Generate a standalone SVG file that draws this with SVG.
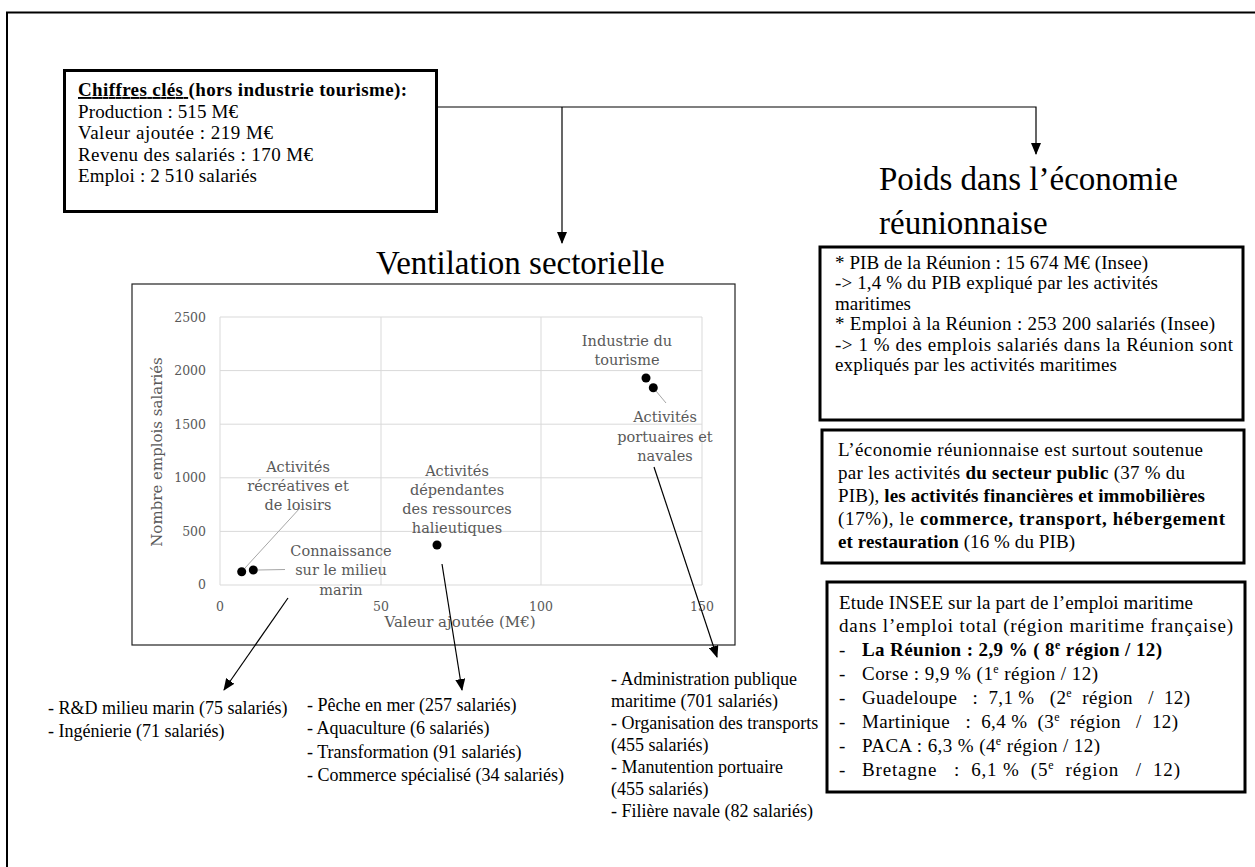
<svg xmlns="http://www.w3.org/2000/svg" width="1255" height="867" viewBox="0 0 1255 867">
<style>
.t{font-family:"Liberation Serif","Times New Roman",serif;fill:#000}
.b19{font-size:19px}
.l18{font-size:18px}
.title{font-size:33px}
.bold{font-weight:bold}
.box{fill:#fff;stroke:#000;stroke-width:3}
.c{font-family:"DejaVu Serif",serif;fill:#595959}
.tick{font-size:12.5px}
.lab{font-size:14.5px;text-anchor:middle}
.axt{font-size:15px;text-anchor:middle}
.grid{stroke:#d9d9d9;stroke-width:1;fill:none}
.lead{stroke:#a6a6a6;stroke-width:1;fill:none}
.con{stroke:#000;stroke-width:1.2;fill:none}
.dot{fill:#000}
</style>
<defs>
<marker id="ah" markerUnits="userSpaceOnUse" markerWidth="12" markerHeight="10" refX="11" refY="5" orient="auto">
<path d="M0,0 L12,5 L0,10 Z" fill="#000"/>
</marker>
</defs>
<rect x="0" y="0" width="1255" height="867" fill="#fff"/>
<rect id="outer" x="7" y="12.5" width="1260" height="880" fill="none" stroke="#000" stroke-width="2"/>

<g id="keyfigures">
<rect class="box" x="64.5" y="70.5" width="372" height="141"/>
<text class="t b19" x="78" y="96" textLength="329" lengthAdjust="spacing"><tspan class="bold" text-decoration="underline">Chiffres clés </tspan><tspan class="bold">(hors industrie tourisme):</tspan></text>
<text class="t b19" x="78" y="117.5" textLength="160" lengthAdjust="spacing">Production : 515 M€</text>
<text class="t b19" x="78" y="139" textLength="195" lengthAdjust="spacing">Valeur ajoutée : 219 M€</text>
<text class="t b19" x="78" y="160.5" textLength="235" lengthAdjust="spacing">Revenu des salariés : 170 M€</text>
<text class="t b19" x="78" y="182" textLength="179" lengthAdjust="spacing">Emploi : 2 510 salariés</text>
</g>

<g id="title-ventilation">
<text class="t title" x="376" y="274">Ventilation sectorielle</text>
</g>
<g id="title-poids">
<text class="t title" x="879" y="190">Poids dans l’économie</text>
<text class="t title" x="879" y="234">réunionnaise</text>
</g>

<g id="chart">
<rect x="132" y="284" width="603" height="361" fill="#fff" stroke="#222" stroke-width="1.2"/>
<g class="grid">
<line x1="220" y1="317" x2="702" y2="317"/>
<line x1="220" y1="370.6" x2="702" y2="370.6"/>
<line x1="220" y1="424.2" x2="702" y2="424.2"/>
<line x1="220" y1="477.8" x2="702" y2="477.8"/>
<line x1="220" y1="531.4" x2="702" y2="531.4"/>
<line x1="220" y1="585" x2="702" y2="585"/>
<line x1="220" y1="317" x2="220" y2="585"/>
<line x1="381" y1="317" x2="381" y2="585"/>
<line x1="541" y1="317" x2="541" y2="585"/>
<line x1="702" y1="317" x2="702" y2="585"/>
</g>
<g class="c tick" text-anchor="end">
<text x="206" y="322">2500</text>
<text x="206" y="375">2000</text>
<text x="206" y="429">1500</text>
<text x="206" y="482">1000</text>
<text x="206" y="536">500</text>
<text x="206" y="589">0</text>
</g>
<g class="c tick" text-anchor="middle">
<text x="220" y="611">0</text>
<text x="381" y="611">50</text>
<text x="541" y="611">100</text>
<text x="702" y="611">150</text>
</g>
<text class="c axt" x="460" y="627">Valeur ajoutée (M€)</text>
<text class="c axt" transform="translate(162,452) rotate(-90)">Nombre emplois salariés</text>
<g class="lead">
<line x1="300" y1="508" x2="245" y2="568"/>
<line x1="285" y1="569.5" x2="258" y2="570"/>
<line x1="666" y1="403" x2="656" y2="391"/>
</g>
<circle class="dot" cx="241.7" cy="571.7" r="4.5"/>
<circle class="dot" cx="253.3" cy="570" r="4.5"/>
<circle class="dot" cx="437" cy="545" r="4.5"/>
<circle class="dot" cx="646" cy="378" r="4.5"/>
<circle class="dot" cx="653.3" cy="387.7" r="4.5"/>
<g class="c lab">
<text x="298" y="472">Activités</text>
<text x="298" y="491">récréatives et</text>
<text x="298" y="510">de loisirs</text>
<text x="341" y="556">Connaissance</text>
<text x="341" y="575">sur le milieu</text>
<text x="341" y="595">marin</text>
<text x="457" y="476">Activités</text>
<text x="457" y="495">dépendantes</text>
<text x="457" y="514">des ressources</text>
<text x="457" y="533">halieutiques</text>
<text x="627" y="346">Industrie du</text>
<text x="627" y="365">tourisme</text>
<text x="665" y="422">Activités</text>
<text x="665" y="442">portuaires et</text>
<text x="665" y="461">navales</text>
</g>
</g>

<g id="connectors">
<polyline class="con" points="437,107 1036,107 1036,154" marker-end="url(#ah)"/>
<line class="con" x1="562" y1="107" x2="562" y2="243" marker-end="url(#ah)"/>
<line class="con" x1="288" y1="598" x2="224" y2="690" marker-end="url(#ah)"/>
<line class="con" x1="442" y1="564" x2="462" y2="690" marker-end="url(#ah)"/>
<line class="con" x1="654" y1="467" x2="717" y2="657" marker-end="url(#ah)"/>
</g>

<g id="list-connaissance">
<text class="t l18" x="48" y="713.5">- R&amp;D milieu marin (75 salariés)</text>
<text class="t l18" x="48" y="737">- Ingénierie (71 salariés)</text>
</g>
<g id="list-halieutiques">
<text class="t l18" x="307" y="710.5">- Pêche en mer (257 salariés)</text>
<text class="t l18" x="307" y="734">- Aquaculture (6 salariés)</text>
<text class="t l18" x="307" y="757.5">- Transformation (91 salariés)</text>
<text class="t l18" x="307" y="781">- Commerce spécialisé (34 salariés)</text>
</g>
<g id="list-portuaires">
<text class="t l18" x="611" y="684.5">- Administration publique</text>
<text class="t l18" x="611" y="706.5">maritime (701 salariés)</text>
<text class="t l18" x="611" y="728.5">- Organisation des transports</text>
<text class="t l18" x="611" y="750.5">(455 salariés)</text>
<text class="t l18" x="611" y="772.5">- Manutention portuaire</text>
<text class="t l18" x="611" y="794.5">(455 salariés)</text>
<text class="t l18" x="611" y="816.5">- Filière navale (82 salariés)</text>
</g>

<g id="box-poids">
<rect class="box" x="820" y="247" width="423" height="173"/>
<text class="t b19" x="835" y="268.5" textLength="313" lengthAdjust="spacing">* PIB de la Réunion : 15 674 M€ (Insee)</text>
<text class="t b19" x="835" y="289" textLength="323" lengthAdjust="spacing">-&gt; 1,4 % du PIB expliqué par les activités</text>
<text class="t b19" x="835" y="309.5">maritimes</text>
<text class="t b19" x="835" y="330" textLength="380" lengthAdjust="spacing">* Emploi à la Réunion : 253 200 salariés (Insee)</text>
<text class="t b19" x="835" y="350.5" textLength="398" lengthAdjust="spacing">-&gt; 1 % des emplois salariés dans la Réunion sont</text>
<text class="t b19" x="835" y="371" textLength="282" lengthAdjust="spacing">expliqués par les activités maritimes</text>
</g>

<g id="box-economie">
<rect class="box" x="822" y="430" width="422" height="133"/>
<text class="t b19" x="838" y="455.5" textLength="365" lengthAdjust="spacing">L’économie réunionnaise est surtout soutenue</text>
<text class="t b19" x="838" y="478.5" textLength="347" lengthAdjust="spacing">par les activités <tspan class="bold">du secteur public</tspan> (37 % du</text>
<text class="t b19" x="838" y="502" textLength="367" lengthAdjust="spacing">PIB), <tspan class="bold">les activités financières et immobilières</tspan></text>
<text class="t b19" x="838" y="525" textLength="387" lengthAdjust="spacing">(17%), le <tspan class="bold">commerce, transport, hébergement</tspan></text>
<text class="t b19" x="838" y="548" textLength="237" lengthAdjust="spacing"><tspan class="bold">et restauration</tspan> (16 % du PIB)</text>
</g>

<g id="box-insee">
<rect class="box" x="827" y="582" width="418" height="210"/>
<text class="t b19" x="839" y="608.5" textLength="354" lengthAdjust="spacing">Etude INSEE sur la part de l’emploi maritime</text>
<text class="t b19" x="839" y="632" textLength="394" lengthAdjust="spacing">dans l’emploi total (région maritime française)</text>
<text class="t b19" x="839" y="656">-</text>
<text class="t b19 bold" x="862" y="656" textLength="300" lengthAdjust="spacing">La Réunion : 2,9 % ( 8<tspan dy="-7" font-size="12">e</tspan><tspan dy="7"> région / 12)</tspan></text>
<text class="t b19" x="839" y="680">-</text>
<text class="t b19" x="862" y="680" textLength="236" lengthAdjust="spacing">Corse : 9,9 % (1<tspan dy="-7" font-size="12">e</tspan><tspan dy="7"> région / 12)</tspan></text>
<text class="t b19" x="839" y="704">-</text>
<text class="t b19" x="862" y="704" xml:space="preserve" textLength="328" lengthAdjust="spacing">Guadeloupe   :  7,1 %   (2<tspan dy="-7" font-size="12">e</tspan><tspan dy="7">  région   /  12)</tspan></text>
<text class="t b19" x="839" y="728">-</text>
<text class="t b19" x="862" y="728" xml:space="preserve" textLength="316" lengthAdjust="spacing">Martinique   :  6,4 %  (3<tspan dy="-7" font-size="12">e</tspan><tspan dy="7">  région   /  12)</tspan></text>
<text class="t b19" x="839" y="752">-</text>
<text class="t b19" x="862" y="752" textLength="238" lengthAdjust="spacing">PACA : 6,3 % (4<tspan dy="-7" font-size="12">e</tspan><tspan dy="7"> région / 12)</tspan></text>
<text class="t b19" x="839" y="776">-</text>
<text class="t b19" x="862" y="776" xml:space="preserve" textLength="318" lengthAdjust="spacing">Bretagne   :  6,1 %  (5<tspan dy="-7" font-size="12">e</tspan><tspan dy="7">  région   /  12)</tspan></text>
</g>
</svg>
